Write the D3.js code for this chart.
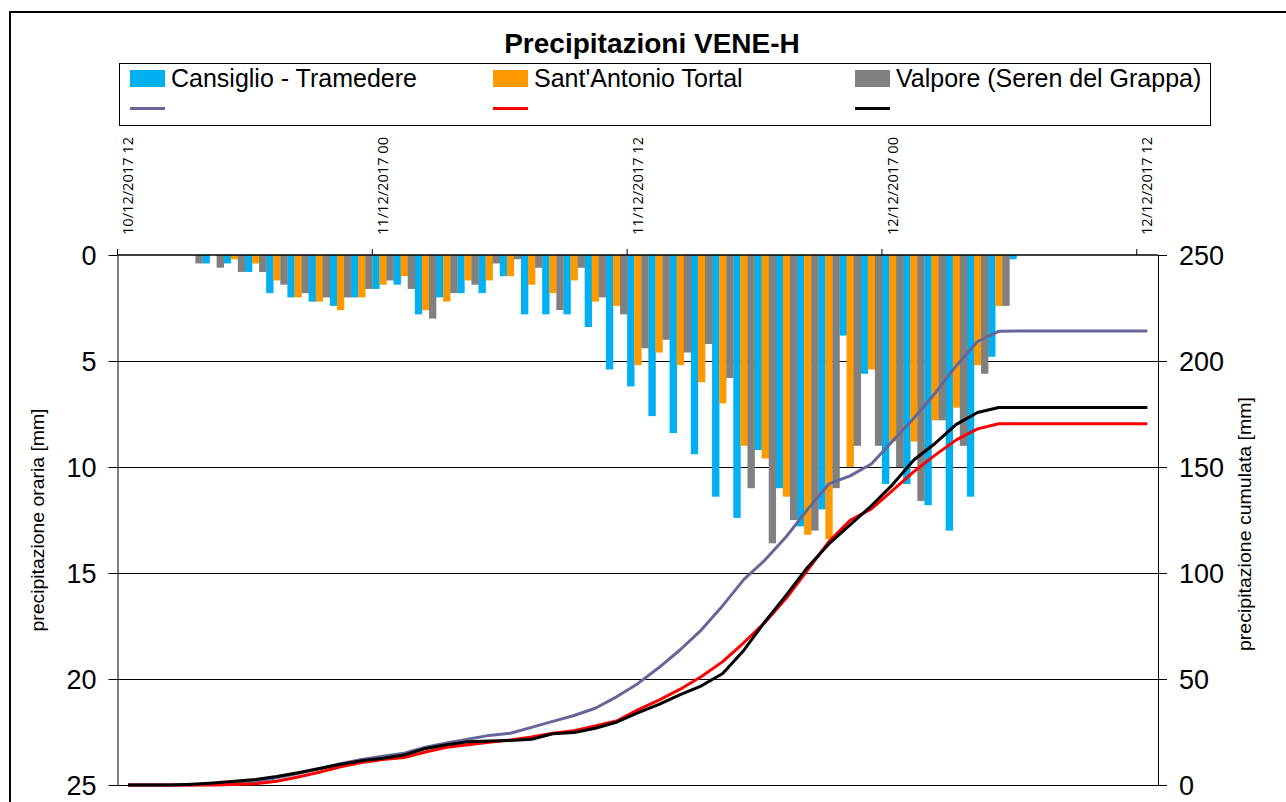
<!DOCTYPE html>
<html><head><meta charset="utf-8">
<script src="https://cdn.jsdelivr.net/npm/d3@7"></script>
<style>body{margin:0;background:#fff} svg{display:block}</style>
</head><body>
<svg id="c" width="1286" height="802"></svg>
<script>
const categories = [
 "10/12/2017 12","10/12/2017 13","10/12/2017 14","10/12/2017 15","10/12/2017 16","10/12/2017 17",
 "10/12/2017 18","10/12/2017 19","10/12/2017 20","10/12/2017 21","10/12/2017 22","10/12/2017 23",
 "11/12/2017 00","11/12/2017 01","11/12/2017 02","11/12/2017 03","11/12/2017 04","11/12/2017 05",
 "11/12/2017 06","11/12/2017 07","11/12/2017 08","11/12/2017 09","11/12/2017 10","11/12/2017 11",
 "11/12/2017 12","11/12/2017 13","11/12/2017 14","11/12/2017 15","11/12/2017 16","11/12/2017 17",
 "11/12/2017 18","11/12/2017 19","11/12/2017 20","11/12/2017 21","11/12/2017 22","11/12/2017 23",
 "12/12/2017 00","12/12/2017 01","12/12/2017 02","12/12/2017 03","12/12/2017 04","12/12/2017 05",
 "12/12/2017 06","12/12/2017 07","12/12/2017 08","12/12/2017 09","12/12/2017 10","12/12/2017 11",
 "12/12/2017 12"];
const tickLabels = ["10/12/2017 12","11/12/2017 00","11/12/2017 12","12/12/2017 00","12/12/2017 12"];
const seriesNames = ["Cansiglio - Tramedere","Sant'Antonio Tortal","Valpore (Seren del Grappa)"];

// hourly precipitation [mm]
const cansiglio = [0,0,0,0,0.4,0.4,0.8,1.8,2.0,2.2,2.4,2.0,1.6,1.4,2.8,2.0,1.8,1.8,1.0,2.8,2.8,2.8,3.4,5.4,
 6.2,7.6,8.4,9.4,11.4,12.4,9.2,11.0,12.8,12.0,3.8,5.6,10.8,10.8,11.8,13.0,11.4,4.8,0.2,0,0,0,0,0,0];
const santAntonio = [0,0,0,0,0,0.2,0.4,1.2,2.0,2.2,2.6,2.0,1.4,1.0,2.6,2.2,1.2,1.2,1.0,1.4,1.8,1.2,2.2,2.4,
 5.2,4.6,5.2,6.0,7.0,9.0,9.6,11.4,13.2,13.4,10.0,5.4,8.8,8.8,7.8,7.2,5.2,2.4,0,0,0,0,0,0,0];
const valpore = [0,0,0,0.4,0.6,0.8,0.8,1.4,1.8,2.0,2.0,1.6,1.2,1.6,3.0,1.8,1.4,0.4,0.2,0.6,2.6,0.6,2.0,2.8,
 4.4,4.0,4.6,4.2,5.8,11.0,13.6,12.5,13.0,11.0,9.0,9.0,10.0,11.6,7.8,9.0,5.6,2.4,0,0,0,0,0,0,0];

// cumulative precipitation [mm]
const cumCansiglio = [0,0,0,0,0.4,0.8,1.6,3.4,5.4,7.6,10.0,12.0,13.6,15.0,17.8,19.8,21.6,23.4,24.4,27.2,30.0,32.8,36.2,41.6,
 47.8,55.4,63.8,73.2,84.6,97.0,106.2,117.2,130.0,142.0,145.8,151.4,162.2,173.0,184.8,197.8,209.2,214.0,214.2,214.2,214.2,214.2,214.2,214.2,214.2];
const cumSantAntonio = [0,0,0,0,0,0.2,0.6,1.8,3.8,6.0,8.6,10.6,12.0,13.0,15.6,17.8,19.0,20.2,21.2,22.6,24.4,25.6,27.8,30.2,
 35.4,40.0,45.2,51.2,58.2,67.2,76.8,88.2,101.4,114.8,124.8,130.2,139.0,147.8,155.6,162.8,168.0,170.4,170.4,170.4,170.4,170.4,170.4,170.4,170.4];
const cumValpore = [0,0,0,0.4,1.0,1.8,2.6,4.0,5.8,7.8,9.8,11.4,12.6,14.2,17.2,19.0,20.4,20.8,21.0,21.6,24.2,24.8,26.8,29.6,
 34.0,38.0,42.6,46.8,52.6,63.6,77.2,89.7,102.7,113.7,122.7,131.7,141.7,153.3,161.1,170.1,175.7,178.1,178.1,178.1,178.1,178.1,178.1,178.1,178.1];

const leftTicks = [0,5,10,15,20,25];
const rightTicks = [0,50,100,150,200,250];
const barColors = ["#00b0f0","#ff9900","#808080"];
const lineColors = ["#666699","#ff0000","#000000"];

const FONT = "'Liberation Sans', Arial, sans-serif";
const svg = d3.select("#c");
const L = 117.5, R = 1158, T = 255, B = 785;

const x = d3.scaleBand().domain(categories).range([L, R]).padding(0);
const xs = d3.scaleBand().domain([0,1,2]).range([0, x.bandwidth()]).padding(0);
const yL = d3.scaleLinear().domain([0, 25]).range([T, B]);
const yR = d3.scaleLinear().domain([0, 250]).range([B, T]);

// outer border
svg.append("rect").attr("x", 10).attr("y", 12).attr("width", 1300).attr("height", 820)
  .attr("fill", "none").attr("stroke", "#000").attr("stroke-width", 2);

// gridlines
svg.append("g").selectAll("line").data(leftTicks.filter(d => d > 0)).join("line")
  .attr("x1", L).attr("x2", R)
  .attr("y1", d => Math.round(yL(d)) + 0.5).attr("y2", d => Math.round(yL(d)) + 0.5)
  .attr("stroke", "#000").attr("stroke-width", 1);

// bars
const barSeries = [cansiglio, santAntonio, valpore];
barSeries.forEach((vals, s) => {
  svg.append("g").selectAll("rect").data(vals).join("rect")
    .attr("x", (d, i) => x(categories[i]) + xs(s))
    .attr("y", yL(0))
    .attr("width", xs.bandwidth() + 0.3)
    .attr("height", d => yL(d) - yL(0))
    .attr("fill", barColors[s]);
});

// cumulative lines
const lineSeries = [cumCansiglio, cumSantAntonio, cumValpore];
const line = d3.line().x((d, i) => x(categories[i]) + x.bandwidth() / 2).y(d => yR(d));
lineSeries.forEach((vals, s) => {
  svg.append("path").datum(vals).attr("d", line)
    .attr("fill", "none").attr("stroke", lineColors[s]).attr("stroke-width", 3)
    .attr("stroke-linejoin", "round");
});

// left axis
const gl = svg.append("g").attr("transform", `translate(${L},0)`)
  .call(d3.axisLeft(yL).tickValues(leftTicks).tickSize(9).tickSizeOuter(0).tickPadding(12));
gl.selectAll("text").attr("font-family", FONT).attr("font-size", 27).attr("fill", "#000").attr("dy", "0.36em");
gl.selectAll("line,path").attr("stroke", "#000");

// right axis
const gr = svg.append("g").attr("transform", `translate(${R},0)`)
  .call(d3.axisRight(yR).tickValues(rightTicks).tickSize(9).tickSizeOuter(0).tickPadding(12));
gr.selectAll("text").attr("font-family", FONT).attr("font-size", 27).attr("fill", "#000").attr("dy", "0.36em");
gr.selectAll("line,path").attr("stroke", "#000");

// top category axis
const gx = svg.append("g");
gx.append("line").attr("x1", L).attr("x2", R).attr("y1", T).attr("y2", T).attr("stroke", "#000").attr("stroke-width", 1.5);
gx.selectAll("line.tk").data(tickLabels).join("line").attr("class", "tk")
  .attr("x1", d => x(d)).attr("x2", d => x(d)).attr("y1", T - 6).attr("y2", T)
  .attr("stroke", "#000");
gx.selectAll("text").data(tickLabels).join("text")
  .attr("transform", d => `translate(${x(d) + x.bandwidth() / 2},${T - 20}) rotate(-90)`)
  .attr("text-anchor", "start").attr("dy", "0.36em")
  .attr("font-family", "'Open Sans', 'DejaVu Sans', sans-serif").attr("font-size", 14).attr("fill", "#000")
  .attr("textLength", 98).attr("lengthAdjust", "spacingAndGlyphs")
  .text(d => d);

// title
svg.append("text").attr("x", 652).attr("y", 53).attr("text-anchor", "middle")
  .attr("font-family", FONT).attr("font-weight", "bold").attr("font-size", 28).text("Precipitazioni VENE-H");

// legend
const lg = svg.append("g");
lg.append("rect").attr("x", 119.5).attr("y", 63.5).attr("width", 1091).attr("height", 62)
  .attr("fill", "#fff").attr("stroke", "#000").attr("stroke-width", 1);
const legX = [130, 493, 855];
seriesNames.forEach((name, s) => {
  lg.append("rect").attr("x", legX[s]).attr("y", 70).attr("width", 35).attr("height", 17).attr("fill", barColors[s]);
  lg.append("text").attr("x", legX[s] + 41).attr("y", 87).attr("font-family", FONT).attr("font-size", 25).text(name);
  lg.append("line").attr("x1", legX[s]).attr("x2", legX[s] + 35).attr("y1", 108.5).attr("y2", 108.5)
    .attr("stroke", lineColors[s]).attr("stroke-width", 3);
});

// axis titles
svg.append("text").attr("transform", `translate(44,${(T + B) / 2}) rotate(-90)`)
  .attr("text-anchor", "middle").attr("font-family", FONT).attr("font-size", 18)
  .attr("textLength", 223).attr("lengthAdjust", "spacingAndGlyphs")
  .text("precipitazione oraria [mm]");
svg.append("text").attr("transform", `translate(1251,${(T + B) / 2 + 4}) rotate(-90)`)
  .attr("text-anchor", "middle").attr("font-family", FONT).attr("font-size", 18)
  .attr("textLength", 254).attr("lengthAdjust", "spacingAndGlyphs")
  .text("precipitazione cumulata [mm]");
</script>
</body></html>
